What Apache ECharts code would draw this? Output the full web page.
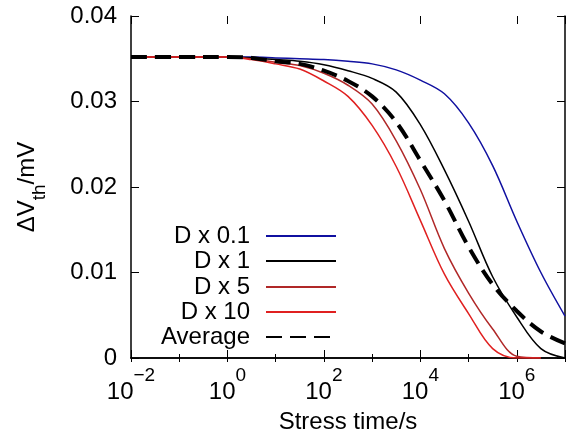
<!DOCTYPE html>
<html>
<head>
<meta charset="utf-8">
<script src="https://cdn.jsdelivr.net/npm/echarts@6/dist/echarts.min.js"></script>
<style>
  html, body { margin: 0; padding: 0; background: #fff; }
  #main { width: 567px; height: 436px; }
</style>
</head>
<body>
<div id="main"></div>
<script>
// stress time (s), half-decade steps
var times = [0.01, 0.1, 1, 3.16, 10, 31.6, 100, 316, 1e3, 3160, 1e4, 3.16e4, 1e5, 3.16e5, 1e6, 3.16e6, 1e7];

var seriesNames = ['D x 0.1', 'D x 1', 'D x 5', 'D x 10', 'Average'];

var dx01 = [0.0352, 0.0352, 0.0352, 0.0352, 0.0351, 0.0350, 0.0349, 0.0347, 0.0344, 0.0337, 0.0325, 0.0309, 0.0275, 0.0225, 0.0160, 0.0100, 0.0049];
var dx1 = [0.0352, 0.0352, 0.0352, 0.0351, 0.0349, 0.0347, 0.0343, 0.0336, 0.0327, 0.0311, 0.0273, 0.0220, 0.0160, 0.0095, 0.0048, 0.0011, 0.0];
var dx5 = [0.0352, 0.0352, 0.0352, 0.0350, 0.0346, 0.0342, 0.0333, 0.0319, 0.0297, 0.0254, 0.0197, 0.0128, 0.0076, 0.0034, 0.0002, 0.0, null];
var dx10 = [0.0352, 0.0352, 0.0352, 0.0349, 0.0344, 0.0338, 0.0324, 0.0306, 0.0272, 0.0224, 0.0161, 0.0098, 0.0052, 0.0011, 0.0, 0.0, null];
var average = [0.0352, 0.0352, 0.0352, 0.0351, 0.0347, 0.0344, 0.0336, 0.0324, 0.0306, 0.0276, 0.0231, 0.0184, 0.0130, 0.0086, 0.0055, 0.0031, 0.0017];

var yTicks = [0, 0.01, 0.02, 0.03, 0.04];

var FONT = 'Liberation Sans';

function pairs(vals) {
  var out = [];
  for (var i = 0; i < times.length; i++) {
    if (vals[i] != null) out.push([times[i], vals[i]]);
  }
  return out;
}

var chart = echarts.init(document.getElementById('main'), null, { renderer: 'canvas' });

function makeSeries(name, vals, color, width, type) {
  return {
    name: name,
    type: 'line',
    data: pairs(vals),
    showSymbol: false,
    symbol: 'none',
    smooth: 0.35,
    lineStyle: { color: color, width: width, type: type || 'solid' },
    itemStyle: { color: color }
  };
}

// one legend per row so the samples line up on the right
var legendTops = [224, 249, 275, 300, 325];
var legends = seriesNames.map(function (n, i) {
  return {
    data: [n],
    right: 230,
    top: legendTops[i],
    orient: 'vertical',
    align: 'right',
    padding: 0,
    itemWidth: 70,
    itemHeight: 14,
    selectedMode: false,
    itemStyle: { opacity: 0 },
    textStyle: { fontFamily: FONT, fontSize: 24, color: '#000', padding: [0, 11, 0, 0] }
  };
});

var option = {
  animation: false,
  backgroundColor: '#fff',
  grid: { left: 131, right: 2, top: 16, bottom: 78, containLabel: false, outerBoundsMode: 'none' },
  legend: legends,
  xAxis: [
    {
      type: 'log', logBase: 10, min: 0.01, max: 1e7,
      position: 'bottom',
      name: 'Stress time/s', nameLocation: 'middle', nameGap: 52,
      nameTextStyle: { fontFamily: FONT, fontSize: 24, color: '#000' },
      axisLine: { lineStyle: { color: '#000', width: 1.5 } },
      axisTick: { inside: true, length: 4, lineStyle: { color: '#000', width: 1 } },
      axisLabel: {
        margin: 8,
        formatter: function (v) {
          var e = Math.round(Math.log10(v));
          if (e % 2 !== 0) return '';
          return '{b|10}{s|' + (e < 0 ? '\u2212' + (-e) : e) + '}';
        },
        rich: {
          b: { fontFamily: FONT, fontSize: 24, color: '#000', lineHeight: 38, verticalAlign: 'bottom' },
          s: { fontFamily: FONT, fontSize: 19, color: '#000', lineHeight: 19, verticalAlign: 'top' }
        }
      },
      splitLine: { show: false }
    },
    {
      type: 'log', logBase: 10, min: 0.01, max: 1e7,
      position: 'top',
      axisLine: { lineStyle: { color: '#000', width: 1.5 } },
      axisTick: { inside: true, length: 4, lineStyle: { color: '#000', width: 1 } },
      axisLabel: { show: false },
      splitLine: { show: false }
    },
    {
      type: 'log', logBase: 10, min: 0.01, max: 1e7, interval: 2,
      position: 'bottom',
      axisLine: { show: false },
      axisTick: { inside: true, length: 8, lineStyle: { color: '#000', width: 1 } },
      axisLabel: { show: false },
      splitLine: { show: false }
    },
    {
      type: 'log', logBase: 10, min: 0.01, max: 1e7, interval: 2,
      position: 'top',
      axisLine: { show: false },
      axisTick: { inside: true, length: 8, lineStyle: { color: '#000', width: 1 } },
      axisLabel: { show: false },
      splitLine: { show: false }
    }
  ],
  yAxis: [
    {
      type: 'value', min: 0, max: 0.04, interval: 0.01,
      position: 'left',
      name: '{a|\u0394V}{s|th}{a|/mV}', nameLocation: 'middle', nameGap: 82, nameRotate: 90,
      nameTextStyle: {
        rich: {
          a: { fontFamily: FONT, fontSize: 24, color: '#000', lineHeight: 34, verticalAlign: 'top' },
          s: { fontFamily: FONT, fontSize: 19, color: '#000', lineHeight: 19, verticalAlign: 'bottom' }
        }
      },
      axisLine: { lineStyle: { color: '#000', width: 1.5 } },
      axisTick: { inside: true, length: 8, lineStyle: { color: '#000', width: 1 } },
      axisLabel: {
        margin: 14, fontFamily: FONT, fontSize: 24, color: '#000',
        formatter: function (v) { return v === 0 ? '0' : v.toFixed(2); }
      },
      splitLine: { show: false }
    },
    {
      type: 'value', min: 0, max: 0.04, interval: 0.01,
      position: 'right',
      axisLine: { lineStyle: { color: '#000', width: 1.5 } },
      axisTick: { inside: true, length: 8, lineStyle: { color: '#000', width: 1 } },
      axisLabel: { show: false },
      splitLine: { show: false }
    }
  ],
  series: [
    makeSeries(seriesNames[0], dx01, '#1010a0', 1.5),
    makeSeries(seriesNames[1], dx1, '#000000', 1.5),
    makeSeries(seriesNames[2], dx5, '#b02828', 1.5),
    makeSeries(seriesNames[3], dx10, '#e02020', 1.5),
    makeSeries(seriesNames[4], average, '#000000', 4, [16, 8])
  ]
};

chart.setOption(option);
</script>
</body>
</html>
